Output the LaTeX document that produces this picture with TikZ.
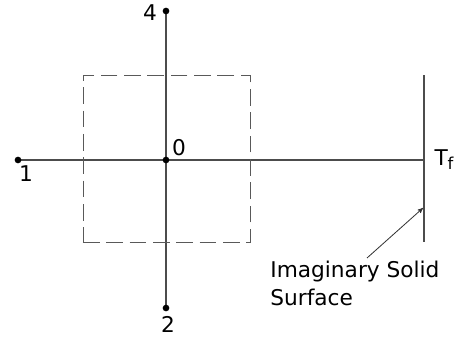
\documentclass[tikz,border=0pt]{standalone}
\usepackage{fontspec}
\setmainfont{DejaVu Sans}
\usetikzlibrary{positioning,arrows,backgrounds}
\tikzset{>=stealth',
ln/.style={draw=black!70,line width=0.9pt},
pt/.style={circle,fill=black,inner sep=0pt,minimum size=0.2cm},
lb/.style={font=\fontsize{18.5}{24}\selectfont,inner sep=1pt},
cell/.style={draw=black!65,line width=0.8pt,dash pattern=on 0.5cm off 0.2cm,
  minimum size=5.01cm,inner sep=0pt},
}
\begin{document}
\begin{tikzpicture}[x=0.03cm,y=-0.03cm]
	\useasboundingbox (0,0) rectangle (458,339);
	\node[cell] (box) at (166.5,158.5) {};

	\node[pt] (p0) at (166,160) {};
	\node[pt] (p1) at (18,160) {};
	\node[pt] (p2) at (166,308) {};
	\node[pt] (p4) at (166,11) {};
	\coordinate (wt) at (424,75);
	\coordinate (wm) at (424,160);
	\coordinate (wb) at (424,242);
	\coordinate (hit) at (423,208);
	\coordinate (tail) at (367,258);

	\begin{scope}[on background layer]
	\path[ln]
	(p1.center) -- (wm)
	(p4.center) -- (p2.center)
	(wt) -- (wb)
	;
	\end{scope}

	\node[lb] (l0) at (179,148) {0};
	\node[lb] (l1) at (26,174) {1};
	\node[lb] (l2) at (168,324) {2};
	\node[lb] (l4) at (150,13) {4};
	\node[lb] (lt) at (444,160) {T\raisebox{-0.35ex}{\fontsize{14}{14}\selectfont f}};
	\node[lb,align=left,anchor=west] (surf) at (269,283) {Imaginary Solid\\Surface};

	\draw[->,draw=black!80,line width=0.7pt] (tail) -- (hit);
\end{tikzpicture}
\end{document}
